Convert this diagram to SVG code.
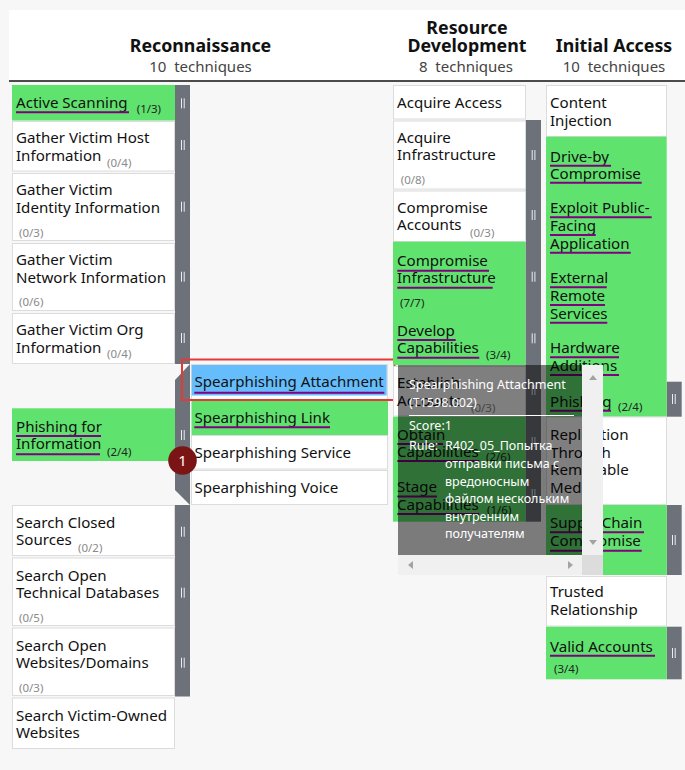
<svg xmlns="http://www.w3.org/2000/svg" width="685" height="770" viewBox="0 0 685 770">
<style>
text{font-family:"Noto Sans","Liberation Sans",sans-serif}
.t{font-size:15.1px;fill:#111}
.c{font-size:11.5px;fill:#8a8a8a}
.cd{font-size:11.5px;fill:#222}
.h{font-size:17.8px;font-weight:bold;fill:#111;text-anchor:middle}
.s{font-size:15px;fill:#444;text-anchor:middle}
.w{fill:#fff;stroke:#dcdcdc;stroke-width:1}
.g{fill:#5fe36e}
.b{fill:#66bdfb}
.sb{fill:#6d7179}
.m{fill:#ececf2}
.u{stroke:#800080;stroke-width:2}
.tt{font-size:12.5px;fill:#fff}
.sc{fill:#f0f0f0}
.ar{fill:#a3a3a3}
</style>
<defs>
<g id="mk"><rect x="0" y="-5" width="1" height="10"/><rect x="2.7" y="-5" width="1" height="10"/></g>
</defs>
<rect x="0" y="0" width="685" height="770" fill="#f7f7f7"/>
<g id="header">
<rect x="9" y="10" width="676" height="71" fill="#fff"/>
<line x1="9" y1="81" x2="685" y2="81" stroke="#111" stroke-width="1.5"/>
<text class="h" x="200.5" y="52">Reconnaissance</text>
<text class="s" x="200.5" y="72" xml:space="preserve">10  techniques</text>
<text class="h" x="467" y="33.5">Resource</text>
<text class="h" x="467" y="52">Development</text>
<text class="s" x="466" y="72" xml:space="preserve">8  techniques</text>
<text class="h" x="614" y="52">Initial Access</text>
<text class="s" x="614" y="72" xml:space="preserve">10  techniques</text>
</g>
<g id="connectors"></g>

<!-- Reconnaissance -->
<g id="recon-sidebars" class="sb">
<rect x="175" y="85" width="15" height="279"/>
<polygon points="190,364 190,505 175,490 175,380"/>
<rect x="175" y="505" width="15" height="191.5"/>
</g>
<g class="m">
<use href="#mk" x="181" y="103.3"/><use href="#mk" x="181" y="145"/><use href="#mk" x="181" y="206.7"/><use href="#mk" x="181" y="276.7"/><use href="#mk" x="181" y="338"/><use href="#mk" x="181" y="435"/><use href="#mk" x="181" y="531.7"/><use href="#mk" x="181" y="592.7"/><use href="#mk" x="181" y="662.7"/>
</g>
<g id="active-scanning">
<rect class="g" x="12" y="85" width="163" height="35.5"/>
<text class="t" x="16" y="108.3">Active Scanning</text>
<line class="u" x1="16" y1="112.3" x2="129" y2="112.3"/>
<text class="cd" x="136.7" y="113.3">(1/3)</text>
</g>
<g id="gather-host">
<rect class="w" x="12.5" y="121.5" width="162" height="49.5"/>
<text class="t" x="16" y="143.3">Gather Victim Host</text>
<text class="t" x="16" y="161">Information</text>
<text class="c" x="107" y="167">(0/4)</text>
</g>
<g id="gather-identity">
<rect class="w" x="12.5" y="173.5" width="162" height="67"/>
<text class="t" x="16" y="195">Gather Victim</text>
<text class="t" x="16" y="212.7">Identity Information</text>
<text class="c" x="19" y="236.7">(0/3)</text>
</g>
<g id="gather-network">
<rect class="w" x="12.5" y="243.5" width="162" height="67"/>
<text class="t" x="16" y="265">Gather Victim</text>
<text class="t" x="16" y="282.7">Network Information</text>
<text class="c" x="19" y="306">(0/6)</text>
</g>
<g id="gather-org">
<rect class="w" x="12.5" y="313.5" width="162" height="50"/>
<text class="t" x="16" y="335">Gather Victim Org</text>
<text class="t" x="16" y="352.7">Information</text>
<text class="c" x="107" y="358.3">(0/4)</text>
</g>
<g id="phishing-info">
<rect class="g" x="12" y="408.3" width="163" height="52.7"/>
<text class="t" x="16" y="431.7">Phishing for</text>
<line class="u" x1="16" y1="436" x2="101" y2="436"/>
<text class="t" x="16" y="449.3">Information</text>
<line class="u" x1="16" y1="454.3" x2="100" y2="454.3"/>
<text class="cd" x="107" y="456">(2/4)</text>
</g>
<g id="sp-attachment">
<rect class="w" x="191.5" y="364.5" width="196" height="35"/>
<rect class="b" x="191.7" y="365" width="195" height="30.5"/>
<text class="t" x="194.5" y="387.3">Spearphishing Attachment</text>
<line class="u" x1="194.3" y1="392.7" x2="384.3" y2="392.7"/>
</g>
<g id="sp-link">
<rect class="g" x="191.5" y="400" width="196.5" height="35"/>
<text class="t" x="194.5" y="422.7">Spearphishing Link</text>
<line class="u" x1="194.3" y1="427.3" x2="330" y2="427.3"/>
</g>
<g id="sp-service">
<rect class="w" x="191.5" y="435.5" width="196" height="33.5"/>
<text class="t" x="194.5" y="458">Spearphishing Service</text>
</g>
<g id="sp-voice">
<rect class="w" x="191.5" y="470.5" width="196" height="34"/>
<text class="t" x="194.5" y="492.7">Spearphishing Voice</text>
</g>
<g id="highlight">
<rect x="182" y="359.5" width="212.5" height="40.5" fill="none" stroke="#e53935" stroke-width="2"/>
</g>
<g id="badge">
<circle cx="182.5" cy="460.5" r="14.3" fill="#7b1515"/>
<text x="182.5" y="466" font-size="15" fill="#fff" text-anchor="middle">1</text>
</g>
<g id="search-closed">
<rect class="w" x="12.5" y="505.5" width="162" height="50"/>
<text class="t" x="16" y="527.5">Search Closed</text>
<text class="t" x="16" y="545">Sources</text>
<text class="c" x="78" y="551.7">(0/2)</text>
</g>
<g id="search-tech">
<rect class="w" x="12.5" y="558" width="162" height="67.5"/>
<text class="t" x="16" y="580.5">Search Open</text>
<text class="t" x="16" y="598">Technical Databases</text>
<text class="c" x="19" y="621.7">(0/5)</text>
</g>
<g id="search-web">
<rect class="w" x="12.5" y="628" width="162" height="67.5"/>
<text class="t" x="16" y="650.5">Search Open</text>
<text class="t" x="16" y="668">Websites/Domains</text>
<text class="c" x="19" y="691.7">(0/3)</text>
</g>
<g id="search-victim">
<rect class="w" x="12.5" y="698" width="162" height="50.5"/>
<text class="t" x="16" y="720.5">Search Victim-Owned</text>
<text class="t" x="16" y="738">Websites</text>
</g>

<!-- Resource Development -->
<g id="rd-sidebar">
<rect class="sb" x="525.5" y="120" width="15.5" height="401.7"/>
<g class="m"><use href="#mk" x="531.7" y="155"/><use href="#mk" x="531.7" y="215"/><use href="#mk" x="531.7" y="276.7"/><use href="#mk" x="531.7" y="338.3"/><use href="#mk" x="531.7" y="390"/><use href="#mk" x="531.7" y="442"/><use href="#mk" x="531.7" y="494"/></g>
</g>
<g id="acquire-access">
<rect class="w" x="393.5" y="85.5" width="132" height="33.5"/>
<text class="t" x="397" y="107.7">Acquire Access</text>
</g>
<g id="acquire-infra">
<rect class="w" x="393.5" y="121" width="132" height="68"/>
<text class="t" x="397" y="142.7">Acquire</text>
<text class="t" x="397" y="160">Infrastructure</text>
<text class="c" x="400.7" y="184">(0/8)</text>
</g>
<g id="compromise-accounts">
<rect class="w" x="393.5" y="191" width="132" height="50.5"/>
<text class="t" x="397" y="212.7">Compromise</text>
<text class="t" x="397" y="230">Accounts</text>
<text class="c" x="470" y="236.7">(0/3)</text>
</g>
<rect class="g" x="393" y="241.7" width="132.5" height="123.3"/>
<g id="compromise-infra">
<text class="t" x="397" y="266">Compromise</text>
<line class="u" x1="397.3" y1="270.7" x2="489" y2="270.7"/>
<text class="t" x="397" y="283.3">Infrastructure</text>
<line class="u" x1="397.3" y1="287.7" x2="492.7" y2="287.7"/>
<text class="cd" x="400" y="306.7">(7/7)</text>
</g>
<g id="develop-cap">
<text class="t" x="397" y="336">Develop</text>
<line class="u" x1="397.3" y1="340" x2="455.7" y2="340"/>
<text class="t" x="397" y="353.3">Capabilities</text>
<line class="u" x1="397.3" y1="357.7" x2="479.3" y2="357.7"/>
<text class="cd" x="486" y="359.3">(3/4)</text>
</g>
<g id="establish-accounts">
<rect class="w" x="393.5" y="366.5" width="132" height="49.5"/>
<text class="t" x="397" y="388">Establish</text>
<text class="t" x="397" y="405.5">Accounts</text>
<text class="c" x="471" y="411.5">(0/3)</text>
</g>
<rect class="g" x="393" y="416.7" width="132.5" height="105"/>
<g id="obtain-cap">
<text class="t" x="397" y="439.5">Obtain</text>
<line class="u" x1="397.3" y1="444" x2="443" y2="444"/>
<text class="t" x="397" y="456.5">Capabilities</text>
<line class="u" x1="397.3" y1="461" x2="479.3" y2="461"/>
<text class="cd" x="486" y="461">(2/6)</text>
</g>
<g id="stage-cap">
<text class="t" x="397" y="492">Stage</text>
<line class="u" x1="397.3" y1="496.5" x2="437" y2="496.5"/>
<text class="t" x="397" y="509.5">Capabilities</text>
<line class="u" x1="397.3" y1="514" x2="479.3" y2="514"/>
<text class="cd" x="487" y="513.7">(1/6)</text>
</g>

<!-- Initial Access -->
<g id="ia-sidebars">
<rect class="sb" x="666.7" y="381.7" width="15" height="35"/>
<rect class="sb" x="666.7" y="505" width="15" height="70"/>
<rect class="sb" x="666.7" y="626.7" width="15" height="52.6"/>
<g class="m"><use href="#mk" x="672" y="399"/><use href="#mk" x="672" y="540"/><use href="#mk" x="672" y="653"/></g>
</g>
<g id="content-injection">
<rect class="w" x="546.5" y="85.5" width="120" height="51"/>
<text class="t" x="550" y="107.7">Content</text>
<text class="t" x="550" y="125.5">Injection</text>
</g>
<rect class="g" x="546" y="136.7" width="120.7" height="280"/>
<g id="drive-by">
<text class="t" x="550" y="161.7">Drive-by</text>
<line class="u" x1="550" y1="165.7" x2="611" y2="165.7"/>
<text class="t" x="550" y="178.7">Compromise</text>
<line class="u" x1="550" y1="182.7" x2="641.7" y2="182.7"/>
</g>
<g id="exploit-public">
<text class="t" x="550" y="213.3">Exploit Public-</text>
<line class="u" x1="550" y1="217.3" x2="651.7" y2="217.3"/>
<text class="t" x="550" y="231">Facing</text>
<line class="u" x1="550" y1="235" x2="595.7" y2="235"/>
<text class="t" x="550" y="248.7">Application</text>
<line class="u" x1="550" y1="252.7" x2="630.7" y2="252.7"/>
</g>
<g id="external-remote">
<text class="t" x="550" y="283.3">External</text>
<line class="u" x1="550" y1="287.3" x2="606.7" y2="287.3"/>
<text class="t" x="550" y="301">Remote</text>
<line class="u" x1="550" y1="305" x2="605" y2="305"/>
<text class="t" x="550" y="318.7">Services</text>
<line class="u" x1="550" y1="322.7" x2="607.3" y2="322.7"/>
</g>
<g id="hardware-additions">
<text class="t" x="550" y="353.3">Hardware</text>
<line class="u" x1="550" y1="357.3" x2="619" y2="357.3"/>
<text class="t" x="550" y="371">Additions</text>
<line class="u" x1="550" y1="375" x2="619" y2="375"/>
</g>
<g id="phishing">
<text class="t" x="550" y="406.7">Phishing</text>
<line class="u" x1="550" y1="410.7" x2="611" y2="410.7"/>
<text class="cd" x="618" y="411">(2/4)</text>
</g>
<g id="replication">
<rect class="w" x="546.5" y="417" width="120" height="87.5"/>
<text class="t" x="550" y="440">Replication</text>
<text class="t" x="550" y="457.5">Through</text>
<text class="t" x="550" y="475">Removable</text>
<text class="t" x="550" y="492.5">Media</text>
</g>
<g id="supply-chain">
<rect class="g" x="546" y="505" width="120.7" height="70"/>
<text class="t" x="550" y="528.3">Supply Chain</text>
<line class="u" x1="550" y1="532.3" x2="644" y2="532.3"/>
<text class="t" x="550" y="546">Compromise</text>
<line class="u" x1="550" y1="550.7" x2="641.7" y2="550.7"/>
</g>
<g id="trusted">
<rect class="w" x="546.5" y="576.5" width="120" height="49.5"/>
<text class="t" x="550" y="597.3">Trusted</text>
<text class="t" x="550" y="615">Relationship</text>
</g>
<g id="valid-accounts">
<rect class="g" x="546" y="626.7" width="120.7" height="52.6"/>
<text class="t" x="550" y="651.7">Valid Accounts</text>
<line class="u" x1="550" y1="655.7" x2="655" y2="655.7"/>
<text class="cd" x="554" y="673.3">(3/4)</text>
</g>

<!-- Tooltip -->
<g id="tooltip">
<rect x="398" y="365" width="184" height="190" fill="#000" fill-opacity="0.5"/>
<text class="tt" x="409" y="388.5">Spearphishing Attachment</text>
<text class="tt" x="409" y="407">(T1598.002)</text>
<line x1="409" y1="415.5" x2="574" y2="415.5" stroke="#fff" stroke-width="1"/>
<text class="tt" x="409" y="429.5">Score:1</text>
<text class="tt" x="409" y="450">Rule:</text>
<text class="tt" x="445" y="450">R402_05_Попытка</text>
<text class="tt" x="445" y="468">отправки письма с</text>
<text class="tt" x="445" y="485.5">вредоносным</text>
<text class="tt" x="445" y="503">файлом нескольким</text>
<text class="tt" x="445" y="520.5">внутренним</text>
<text class="tt" x="445" y="538">получателям</text>
<rect class="sc" x="582" y="365" width="21" height="190"/>
<rect class="sc" x="398" y="555" width="184" height="20"/>
<rect x="582" y="555" width="21" height="20" fill="#dcdcdc"/>
<polygon class="ar" points="589,380 597,380 593,375"/>
<polygon class="ar" points="589,540 597,540 593,545"/>
<polygon class="ar" points="408,565 413,561 413,569"/>
<polygon class="ar" points="573,565 568,561 568,569"/>
</g>
</svg>
